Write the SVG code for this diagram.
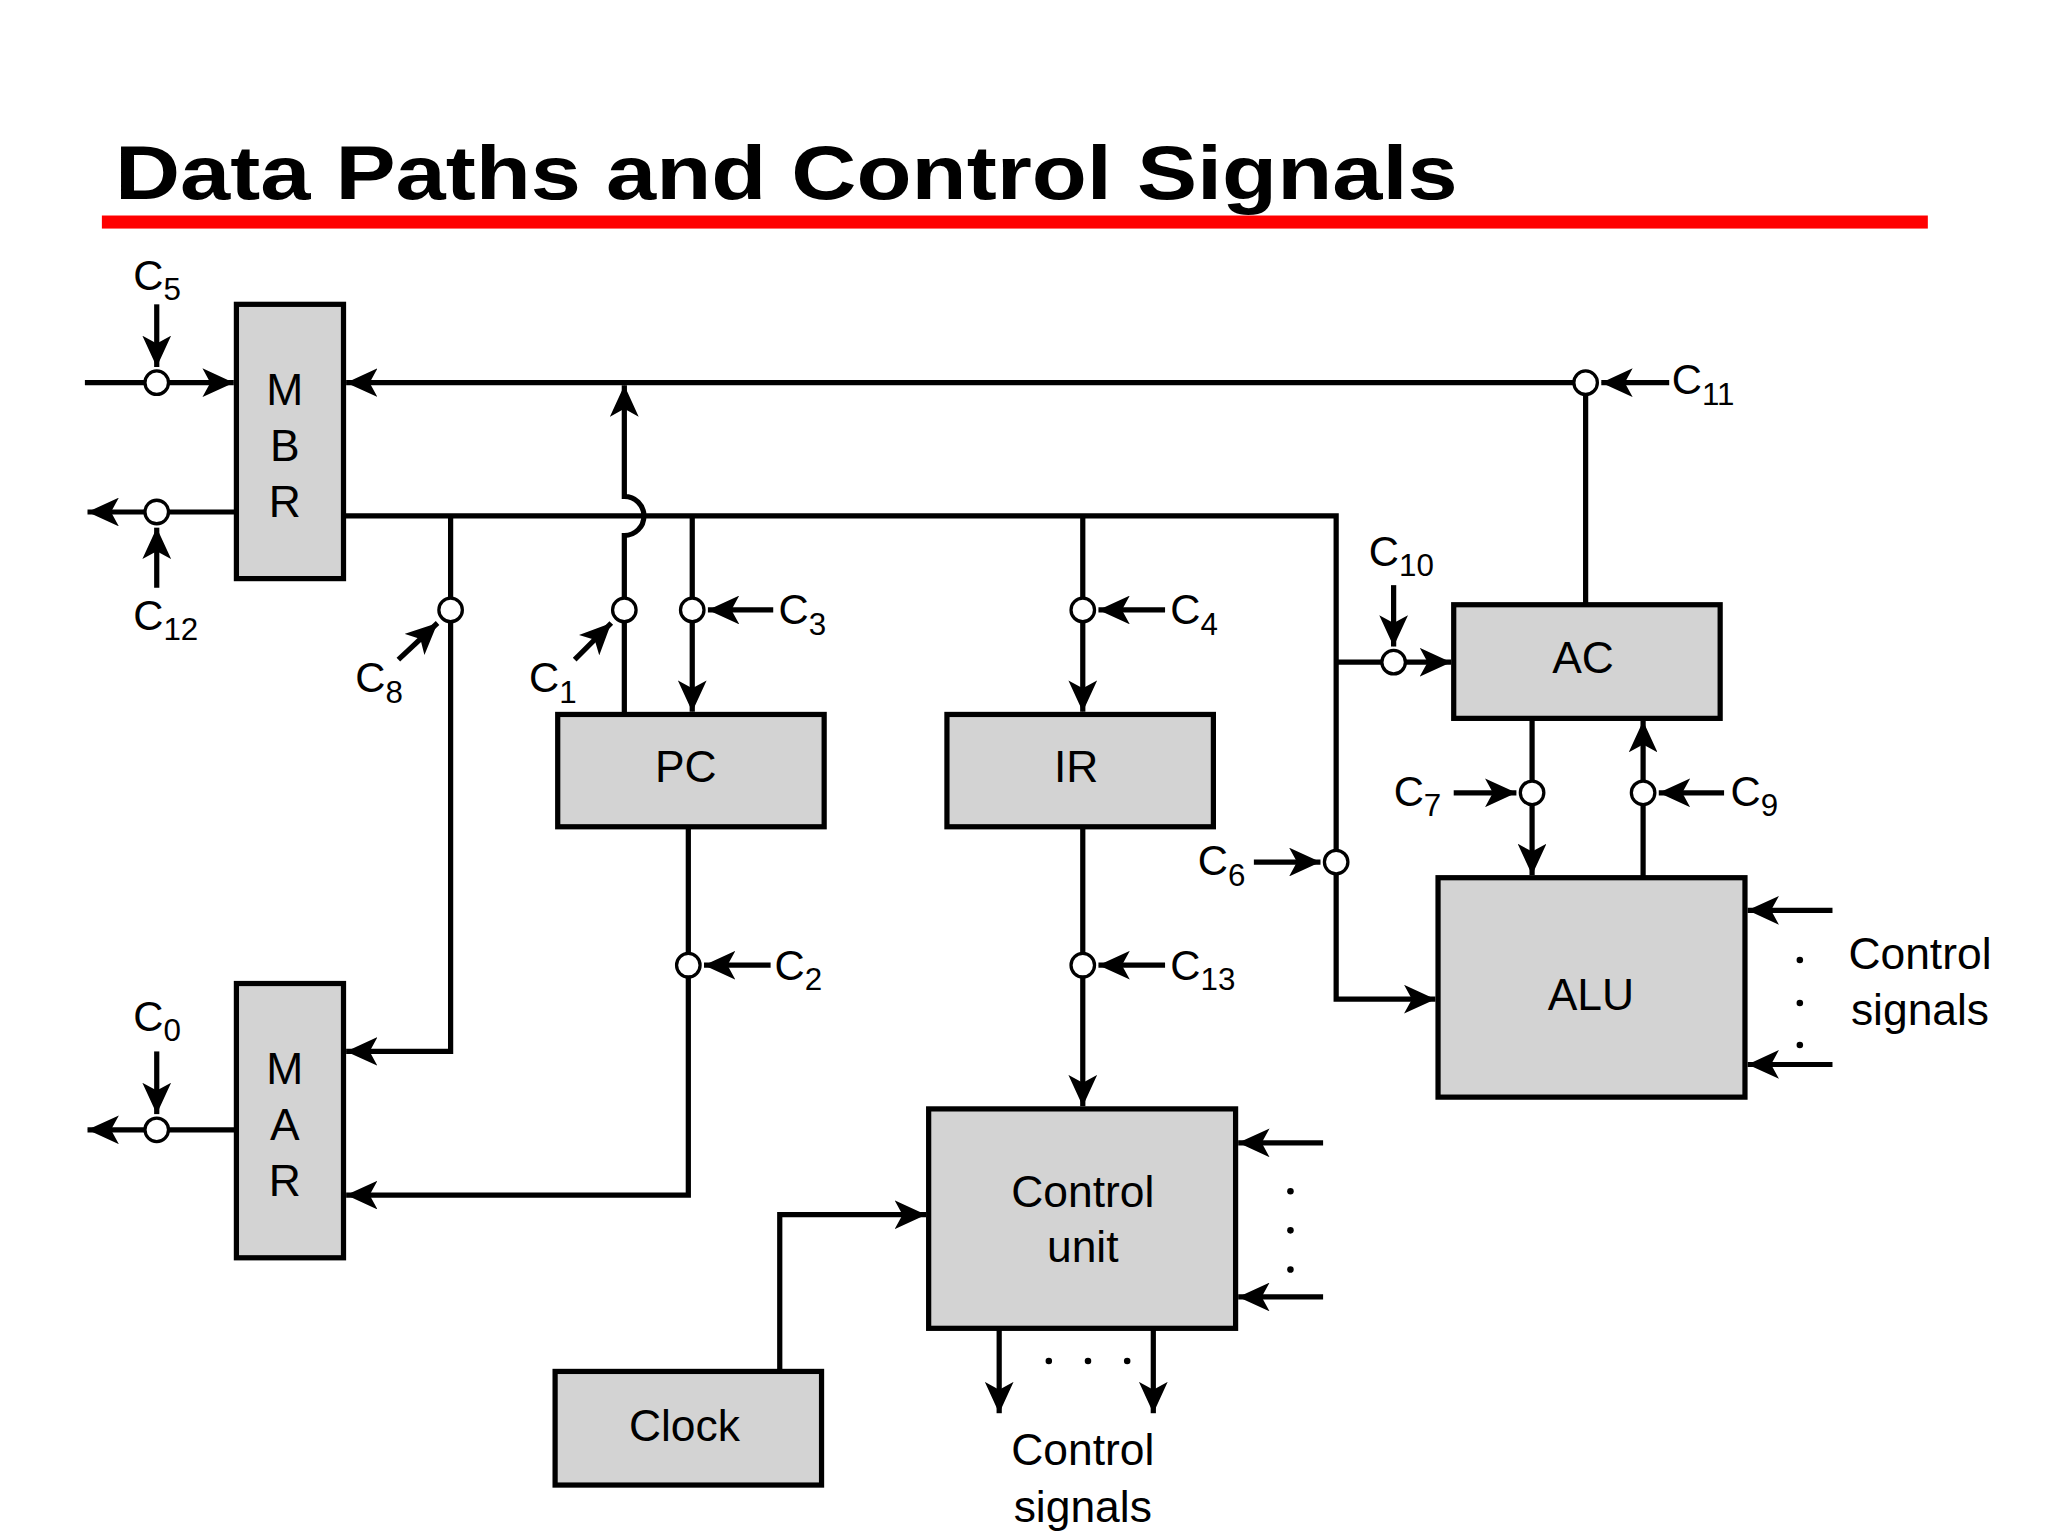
<svg xmlns="http://www.w3.org/2000/svg" width="2048" height="1536" viewBox="0 0 2048 1536">
<style>
.box{fill:#d3d3d3;stroke:#000;stroke-width:4}
.ln{fill:none;stroke:#000;stroke-width:4}
.nd{fill:#fff;stroke:#000;stroke-width:2.5}
.t{font-family:"Liberation Sans",Arial,sans-serif;font-size:34px;fill:#000;text-anchor:middle}
.c{font-family:"Liberation Sans",Arial,sans-serif;font-size:32px;fill:#000}
.s{font-size:24px}
.dot{fill:#000}
</style>
<defs>
<marker id="a" markerUnits="userSpaceOnUse" markerWidth="26" markerHeight="22" refX="24" refY="11" orient="auto">
<path d="M0,0 L24,11 L0,22 L6,11 Z" fill="#000"/>
</marker>
</defs>
<rect width="2048" height="1536" fill="#fff"/>
<g transform="scale(1.30612)">
<text x="88" y="152" font-family="'Liberation Sans',Arial,sans-serif" font-weight="bold" font-size="58" textLength="1028" lengthAdjust="spacingAndGlyphs">Data Paths and Control Signals</text>
<rect x="78" y="165" width="1398" height="10" fill="#f00"/>

<g id="connectors">
<path class="ln" d="M1214,293 H265" marker-end="url(#a)"/>
<path class="ln" d="M1278,293 H1226" marker-end="url(#a)"/>
<path class="ln" d="M1214,293 V463"/>
<path class="ln" d="M65,293 H179" marker-end="url(#a)"/>
<path class="ln" d="M120,233 V281" marker-end="url(#a)"/>
<path class="ln" d="M181,392 H67" marker-end="url(#a)"/>
<path class="ln" d="M120,450 V404" marker-end="url(#a)"/>
<path class="ln" d="M263,395 H1023 V765 H1099" marker-end="url(#a)"/>
<path class="ln" d="M478,547 V410 A15,15 0 0 0 478,380 V295" marker-end="url(#a)"/>
<path class="ln" d="M440,505 L468,477" marker-end="url(#a)"/>
<path class="ln" d="M345,395 V805 H265" marker-end="url(#a)"/>
<path class="ln" d="M305,505 L335,477" marker-end="url(#a)"/>
<path class="ln" d="M530,395 V545" marker-end="url(#a)"/>
<path class="ln" d="M592,467 H542" marker-end="url(#a)"/>
<path class="ln" d="M829,395 V545" marker-end="url(#a)"/>
<path class="ln" d="M892,467 H841" marker-end="url(#a)"/>
<path class="ln" d="M527,633 V915 H265" marker-end="url(#a)"/>
<path class="ln" d="M590,739 H539" marker-end="url(#a)"/>
<path class="ln" d="M829,633 V847" marker-end="url(#a)"/>
<path class="ln" d="M892,739 H841" marker-end="url(#a)"/>
<path class="ln" d="M1023,507 H1111" marker-end="url(#a)"/>
<path class="ln" d="M1067,448 V495" marker-end="url(#a)"/>
<path class="ln" d="M960,660 H1011" marker-end="url(#a)"/>
<path class="ln" d="M1173,550 V670" marker-end="url(#a)"/>
<path class="ln" d="M1113,607 H1161" marker-end="url(#a)"/>
<path class="ln" d="M1258,672 V552" marker-end="url(#a)"/>
<path class="ln" d="M1320,607 H1270" marker-end="url(#a)"/>
<path class="ln" d="M1403,697 H1338" marker-end="url(#a)"/>
<path class="ln" d="M1403,815 H1338" marker-end="url(#a)"/>
<path class="ln" d="M1013,875 H948" marker-end="url(#a)"/>
<path class="ln" d="M1013,993 H948" marker-end="url(#a)"/>
<path class="ln" d="M765,1017 V1082" marker-end="url(#a)"/>
<path class="ln" d="M883,1017 V1082" marker-end="url(#a)"/>
<path class="ln" d="M597,1050 V930 H709" marker-end="url(#a)"/>
<path class="ln" d="M181,865 H67" marker-end="url(#a)"/>
<path class="ln" d="M120,805 V853" marker-end="url(#a)"/>
<circle class="nd" cx="1214" cy="293" r="9"/>
<circle class="nd" cx="120" cy="293" r="9"/>
<circle class="nd" cx="120" cy="392" r="9"/>
<circle class="nd" cx="478" cy="467" r="9"/>
<circle class="nd" cx="345" cy="467" r="9"/>
<circle class="nd" cx="530" cy="467" r="9"/>
<circle class="nd" cx="829" cy="467" r="9"/>
<circle class="nd" cx="527" cy="739" r="9"/>
<circle class="nd" cx="829" cy="739" r="9"/>
<circle class="nd" cx="1067" cy="507" r="9"/>
<circle class="nd" cx="1023" cy="660" r="9"/>
<circle class="nd" cx="1173" cy="607" r="9"/>
<circle class="nd" cx="1258" cy="607" r="9"/>
<circle class="nd" cx="120" cy="865" r="9"/>
<g class="dot">
<circle cx="1378" cy="735" r="2.5"/><circle cx="1378" cy="768" r="2.5"/><circle cx="1378" cy="800" r="2.5"/>
<circle cx="988" cy="912" r="2.5"/><circle cx="988" cy="942" r="2.5"/><circle cx="988" cy="972" r="2.5"/>
<circle cx="803" cy="1042" r="2.5"/><circle cx="833" cy="1042" r="2.5"/><circle cx="863" cy="1042" r="2.5"/>
</g>
</g>

<g id="labels">
<text class="c" x="102" y="222">C<tspan class="s" dy="8">5</tspan></text>
<text class="c" x="102" y="482">C<tspan class="s" dy="8">12</tspan></text>
<text class="c" x="1280" y="302">C<tspan class="s" dy="8">11</tspan></text>
<text class="c" x="272" y="530">C<tspan class="s" dy="8">8</tspan></text>
<text class="c" x="405" y="530">C<tspan class="s" dy="8">1</tspan></text>
<text class="c" x="596" y="478">C<tspan class="s" dy="8">3</tspan></text>
<text class="c" x="896" y="478">C<tspan class="s" dy="8">4</tspan></text>
<text class="c" x="593" y="750">C<tspan class="s" dy="8">2</tspan></text>
<text class="c" x="896" y="750">C<tspan class="s" dy="8">13</tspan></text>
<text class="c" x="1048" y="433">C<tspan class="s" dy="8">10</tspan></text>
<text class="c" x="917" y="670">C<tspan class="s" dy="8">6</tspan></text>
<text class="c" x="1067" y="617">C<tspan class="s" dy="8">7</tspan></text>
<text class="c" x="1325" y="617">C<tspan class="s" dy="8">9</tspan></text>
<text class="c" x="102" y="789">C<tspan class="s" dy="8">0</tspan></text>
<text class="t" x="1470" y="742">Control</text>
<text class="t" x="1470" y="785">signals</text>
<text class="t" x="829" y="1122">Control</text>
<text class="t" x="829" y="1165">signals</text>
</g>

<g id="MBR"><rect class="box" x="181" y="233" width="82" height="210"/>
<text class="t" x="218" y="310">M</text><text class="t" x="218" y="353">B</text><text class="t" x="218" y="396">R</text></g>
<g id="MAR"><rect class="box" x="181" y="753" width="82" height="210"/>
<text class="t" x="218" y="830">M</text><text class="t" x="218" y="873">A</text><text class="t" x="218" y="916">R</text></g>
<g id="PC"><rect class="box" x="427" y="547" width="204" height="86"/><text class="t" x="525" y="599">PC</text></g>
<g id="IR"><rect class="box" x="725" y="547" width="204" height="86"/><text class="t" x="824" y="599">IR</text></g>
<g id="AC"><rect class="box" x="1113" y="463" width="204" height="87"/><text class="t" x="1212" y="515">AC</text></g>
<g id="ALU"><rect class="box" x="1101" y="672" width="235" height="168"/><text class="t" x="1218" y="773">ALU</text></g>
<g id="ControlUnit"><rect class="box" x="711" y="849" width="235" height="168"/>
<text class="t" x="829" y="924">Control</text><text class="t" x="829" y="966">unit</text></g>
<g id="Clock"><rect class="box" x="425" y="1050" width="204" height="87"/><text class="t" x="524" y="1103">Clock</text></g>
</g>
</svg>
